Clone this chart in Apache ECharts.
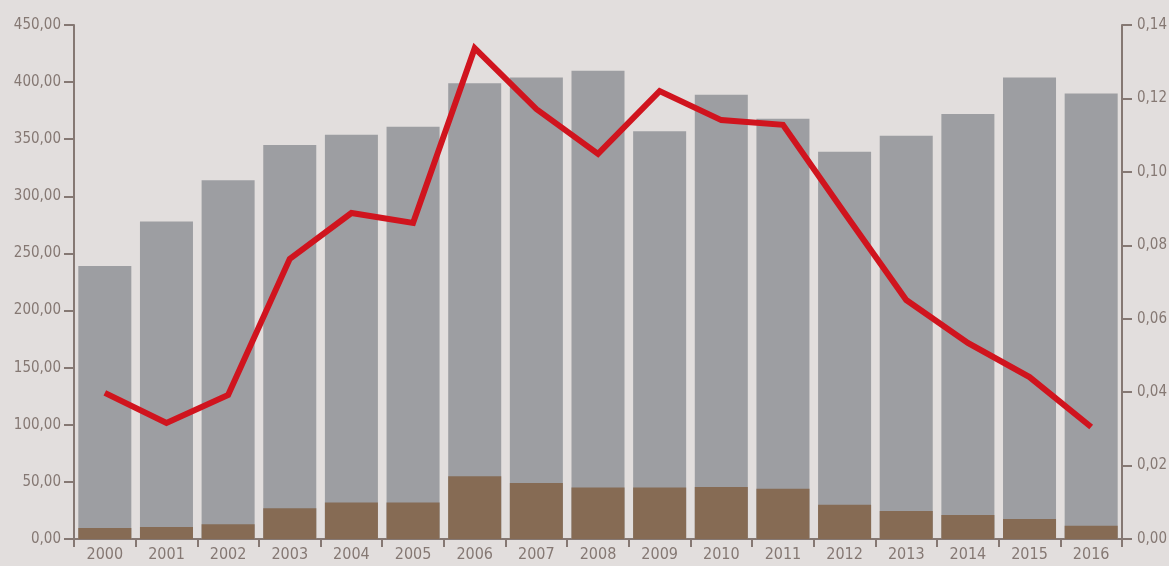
<!DOCTYPE html>
<head>
    <meta charset="utf-8">
    <title>chart</title>
    <script src="https://cdn.jsdelivr.net/npm/echarts@6/dist/echarts.min.js"></script>
    <style>
        html, body { margin: 0; padding: 0; background: #e2dedd; }
        #chart { width: 1169px; height: 566px; }
    </style>
</head>
<body>
    <div id="chart"></div>
    <script type="text/javascript">
        var years = ['2000','2001','2002','2003','2004','2005','2006','2007','2008','2009','2010','2011','2012','2013','2014','2015','2016'];
        var totalBars = [239, 278, 314, 345, 354, 361, 399, 404, 410, 357, 389, 368, 339, 353, 372, 404, 390];
        var partBars = [9.6, 10.5, 13, 27, 32, 32, 55, 49, 45, 45, 45.5, 44, 30, 24.5, 21, 17.5, 11.5];
        var ratioLine = [0.0398, 0.0316, 0.0392, 0.0763, 0.0888, 0.0861, 0.1337, 0.1171, 0.1049, 0.122, 0.1141, 0.1128, 0.0888, 0.0651, 0.0534, 0.0441, 0.0305];

        var axisColor = '#857873';
        var font = '"DejaVu Sans Condensed", "Liberation Sans Narrow", sans-serif';
        function comma(v, d) { return v.toFixed(d).replace('.', ','); }

        var myChart = echarts.init(document.getElementById('chart'));
        var option = {
            backgroundColor: '#e2dedd',
            animation: false,
            grid: { left: 74, right: 47, top: 25, bottom: 27, outerBoundsMode: 'none', containLabel: false },
            xAxis: [{
                type: 'category',
                data: years,
                axisLine: { lineStyle: { color: axisColor, width: 2 } },
                axisTick: { show: true, length: 8, lineStyle: { color: axisColor, width: 2 } },
                axisLabel: { color: axisColor, fontFamily: font, fontSize: 16, margin: 8 }
            }],
            yAxis: [
                {
                    type: 'value', min: 0, max: 450, interval: 50,
                    splitLine: { show: false },
                    axisLine: { show: true, lineStyle: { color: axisColor, width: 2 } },
                    axisTick: { show: true, length: 10, lineStyle: { color: axisColor, width: 2 } },
                    axisLabel: { color: axisColor, fontFamily: font, fontSize: 15, margin: 13,
                        formatter: function (v) { return comma(v, 2); } }
                },
                {
                    type: 'value', min: 0, max: 0.14, interval: 0.02,
                    splitLine: { show: false },
                    axisLine: { show: true, lineStyle: { color: axisColor, width: 2 } },
                    axisTick: { show: true, length: 10, lineStyle: { color: axisColor, width: 2 } },
                    axisLabel: { color: axisColor, fontFamily: font, fontSize: 15, margin: 15,
                        formatter: function (v) { return comma(v, 2); } }
                }
            ],
            series: [
                {
                    type: 'bar', data: totalBars, barCategoryGap: '14%', barGap: '-100%',
                    itemStyle: { color: '#9d9ea2' }
                },
                {
                    type: 'bar', data: partBars, barCategoryGap: '14%', barGap: '-100%',
                    itemStyle: { color: '#866b54' }
                },
                {
                    type: 'line', yAxisIndex: 1, data: ratioLine, symbol: 'none',
                    lineStyle: { color: '#d0141e', width: 6, join: 'miter' }
                }
            ]
        };
        myChart.setOption(option);
    </script>
</body>
